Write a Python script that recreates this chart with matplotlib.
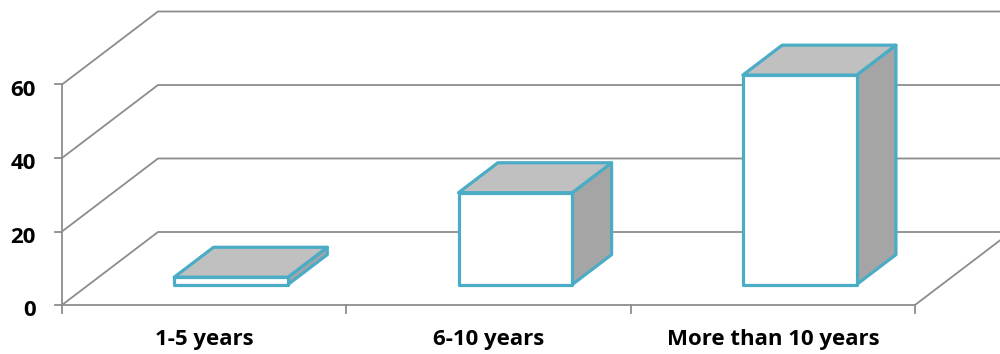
import matplotlib.pyplot as plt
from matplotlib.patches import Polygon

categories = ["1-5 years", "6-10 years", "More than 10 years"]
values = [2, 25, 57]
y_ticks = [0, 20, 40, 60]

# pixel scale of the picture (1000 x 354 at dpi 100)
px_per_cat = 284.33
px_per_unit = 3.675

# oblique depth vector of the full floor, in data units
depth_dx = 96 / px_per_cat
depth_dy = 73 / px_per_unit

# bars sit between these depth fractions
bar_front = 0.28
bar_back = 0.69
bar_width = 0.40

grid_color = "#8C8C8C"
edge_color = "#4BACC6"

plt.rcParams["font.family"] = ["Open Sans", "DejaVu Sans"]

fig = plt.figure(figsize=(10, 3.54), dpi=100)
ax = fig.add_axes([0, 0, 1, 1])
ax.set_xlim(-62 / px_per_cat, (1000 - 62) / px_per_cat)
ax.set_ylim(-(354 - 305) / px_per_unit, 305 / px_per_unit)
ax.axis("off")

n = len(categories)

# side wall diagonals + back wall gridlines
for v in y_ticks:
    ax.plot([0, depth_dx, n + depth_dx], [v, v + depth_dy, v + depth_dy],
            color=grid_color, lw=1.3, zorder=1, solid_joinstyle="miter")

# floor front edge, right edge, value axis
ax.plot([0, n, n + depth_dx], [0, 0, depth_dy], color=grid_color, lw=1.3, zorder=1)
ax.plot([0, 0], [0, y_ticks[-1]], color=grid_color, lw=1.3, zorder=1)

# tick marks
tick_x = 7 / px_per_cat
tick_y = 8 / px_per_unit
for v in y_ticks:
    ax.plot([-tick_x, 0], [v, v], color=grid_color, lw=1.3, zorder=1)
for i in range(n + 1):
    ax.plot([i, i], [0, -tick_y], color=grid_color, lw=1.3, zorder=1)

# tick labels
for v in y_ticks:
    ax.text(-26 / px_per_cat, v - 6 / px_per_unit, str(v), ha="right", va="center",
            fontsize=16, fontweight="bold", color="black")
for i, name in enumerate(categories):
    ax.text(i + 0.5, -34 / px_per_unit, name, ha="center", va="center",
            fontsize=16, fontweight="bold", color="black")

# 3d bars
ddx = (bar_back - bar_front) * depth_dx
ddy = (bar_back - bar_front) * depth_dy
for i, v in enumerate(values):
    x0 = i + 0.5 - bar_width / 2 + bar_front * depth_dx
    x1 = x0 + bar_width
    y0 = bar_front * depth_dy
    y1 = y0 + v
    faces = [
        ([(x1, y0), (x1 + ddx, y0 + ddy), (x1 + ddx, y1 + ddy), (x1, y1)], "#A5A5A5"),
        ([(x0, y1), (x1, y1), (x1 + ddx, y1 + ddy), (x0 + ddx, y1 + ddy)], "#C0C0C0"),
        ([(x0, y0), (x1, y0), (x1, y1), (x0, y1)], "white"),
    ]
    for pts, fc in faces:
        ax.add_patch(Polygon(pts, closed=True, facecolor=fc, edgecolor=edge_color,
                             lw=2.3, joinstyle="round", zorder=3))

fig.savefig("out.png", dpi=100)
